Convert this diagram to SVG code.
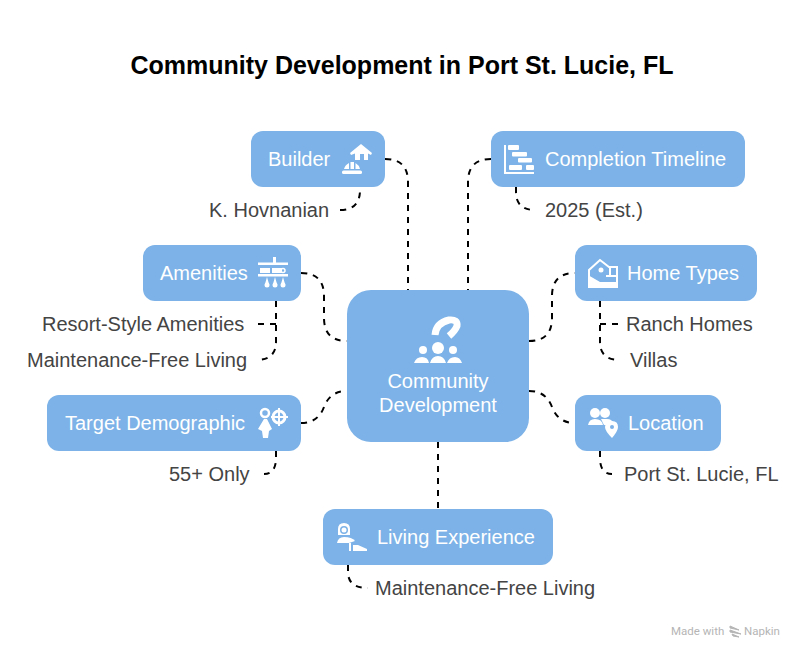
<svg xmlns="http://www.w3.org/2000/svg" width="804" height="658" viewBox="0 0 804 658">
<style>
text{font-family:"Liberation Sans",Arial,sans-serif}
.box{fill:#7cb2e7}
.nl{font-size:20px;fill:#fff}
.cl{font-size:20px;fill:#444}
.c{fill:none;stroke:#000;stroke-width:2;stroke-dasharray:6 6}
.i{fill:#fff;stroke:none}
.s{fill:none;stroke:#fff;stroke-width:2}
.wm{font-size:11.5px;fill:#b5b5b5;font-family:Roboto,sans-serif}
</style>
<rect width="804" height="658" fill="#fff"/>
<text id="title" x="402" y="74" text-anchor="middle" font-size="25" font-weight="700" fill="#000">Community Development in Port St. Lucie, FL</text>
<g id="connectors">
<path class="c" d="M385 159Q408 159 408 182V290"/>
<path class="c" d="M491 159Q468 159 468 182V290"/>
<path class="c" d="M340 210Q360 210 360 190V187"/>
<path class="c" d="M516 187V192Q516 210 535 210"/>
<path class="c" d="M301 273Q324 273 324 296V318Q324 341 347 341"/>
<path class="c" d="M276 301V342Q276 360 256 360"/>
<path class="c" d="M258 324H276"/>
<path class="c" d="M529 341Q552 341 552 318V296Q552 273 575 273"/>
<path class="c" d="M600 301V342Q600 360 620 360"/>
<path class="c" d="M618 324H600"/>
<path class="c" d="M301 423Q318 423 324 407Q330 391 347 391"/>
<path class="c" d="M276 451V458Q276 474 264 474"/>
<path class="c" d="M529 391Q546 391 552 407Q558 423 575 423"/>
<path class="c" d="M600 451V458Q600 474 612 474"/>
<path class="c" d="M438 442V509"/>
<path class="c" d="M348 565V572Q348 588 368 588"/>
</g>
<g id="center">
<rect class="box" x="347" y="290" width="182" height="152" rx="24"/>
<path class="s" style="stroke-width:7" d="M435 335Q436 323 449 320Q458 319 457 326Q455 331 449 336"/>
<circle class="i" cx="423" cy="350" r="4"/><circle class="i" cx="438" cy="348" r="6"/><circle class="i" cx="453" cy="350" r="4"/>
<path class="i" d="M414 363Q416 357 422 357Q428 357 429 363ZM430 363Q432 356 438 356Q444 356 446 363ZM447 363Q449 357 455 357Q460 357 462 363Z"/>
<text class="nl" x="438" y="388" text-anchor="middle">Community</text>
<text class="nl" x="438" y="412" text-anchor="middle">Development</text>
</g>
<g id="builder">
<rect class="box" x="251" y="131" width="134" height="56" rx="12"/>
<text class="nl" x="268" y="166">Builder</text>
<path class="i" d="M350 153L361 144L372 153L371 155L368 153.500V160H355V153.500L351 155Z"/>
<rect class="box" x="360" y="154" width="4" height="6"/>
<path class="i" d="M344 169Q345 165 349 163V169ZM350.500 162H354V169H350.500ZM355.500 163Q359 165 360 169H355.500Z"/>
<rect class="i" x="342" y="170.500" width="20" height="3.500" rx="1.500"/>
</g>
<g id="builder-child"><text class="cl" x="209" y="217">K. Hovnanian</text></g>
<g id="timeline">
<rect class="box" x="491" y="131" width="254" height="56" rx="12"/>
<text class="nl" x="545" y="166">Completion Timeline</text>
<path class="s" d="M505 145V173H534"/>
<rect class="i" x="508" y="145" width="11" height="5" rx="1"/>
<rect class="i" x="512" y="152" width="15" height="4.500" rx="1"/>
<rect class="i" x="518" y="158" width="14" height="4.500" rx="1"/>
<rect class="i" x="509" y="165" width="13" height="5" rx="1"/>
<rect class="i" x="526" y="165" width="8" height="5" rx="1"/>
</g>
<g id="timeline-child"><text class="cl" x="545" y="217">2025 (Est.)</text></g>
<g id="amenities">
<rect class="box" x="143" y="245" width="158" height="56" rx="12"/>
<text class="nl" x="160" y="280">Amenities</text>
<rect class="i" x="258" y="262.500" width="30" height="2.500"/>
<rect class="i" x="273" y="257" width="3" height="6"/>
<rect class="i" x="260" y="268" width="10" height="5"/>
<rect class="i" x="272" y="268" width="10" height="5"/>
<circle cx="283" cy="270.500" r="2" fill="none" stroke="#fff" stroke-width="1.500"/>
<rect class="i" x="258" y="274" width="30" height="2.500"/>
<circle class="i" cx="267" cy="285" r="2.500"/><circle class="i" cx="275" cy="285" r="2.500"/><circle class="i" cx="283" cy="285" r="2.500"/>
<path class="i" d="M265 284L267 277L269 284ZM273 284L275 277L277 284ZM281 284L283 277L285 284Z"/>
</g>
<g id="amenities-child-1"><text class="cl" x="42" y="331">Resort-Style Amenities</text></g>
<g id="amenities-child-2"><text class="cl" x="27" y="367">Maintenance-Free Living</text></g>
<g id="home-types">
<rect class="box" x="575" y="245" width="182" height="56" rx="12"/>
<text class="nl" x="627" y="280">Home Types</text>
<path class="s" d="M589 286V270L600 260L609 267H617V286M610 267V276M606 276H617"/>
<circle class="i" cx="601" cy="270" r="2.500"/>
<path class="i" d="M588 275L600 282H618V288H588Z"/>
</g>
<g id="home-child-1"><text class="cl" x="626" y="331">Ranch Homes</text></g>
<g id="home-child-2"><text class="cl" x="630" y="367">Villas</text></g>
<g id="target">
<rect class="box" x="47" y="395" width="254" height="56" rx="12"/>
<text class="nl" x="65" y="430">Target Demographic</text>
<circle cx="265" cy="413" r="4" fill="none" stroke="#fff" stroke-width="2.500"/>
<path class="i" d="M264 419H267L272 429L269 431L268 438H263L262 431L258 429Z"/>
<circle cx="279" cy="417" r="6" fill="none" stroke="#fff" stroke-width="3"/>
<path class="s" d="M279 408V426M271 417H288"/>
</g>
<g id="target-child"><text class="cl" x="169" y="481">55+ Only</text></g>
<g id="location">
<rect class="box" x="575" y="395" width="146" height="56" rx="12"/>
<text class="nl" x="628" y="430">Location</text>
<circle class="i" cx="595" cy="413" r="5"/><circle class="i" cx="605" cy="413" r="5"/>
<path class="i" d="M588 425Q589 419 595 419Q602 419 603 425ZM601 419H607Q612 419 613 423L606 425H604Z"/>
<path class="i" d="M612 438Q605 431 605 427Q605 421 612 421Q618 421 618 427Q618 431 612 438Z" stroke="#7cb2e7"/>
<circle class="box" cx="612" cy="427" r="2"/>
</g>
<g id="location-child"><text class="cl" x="624" y="481">Port St. Lucie, FL</text></g>
<g id="living">
<rect class="box" x="323" y="509" width="230" height="56" rx="12"/>
<text class="nl" x="377" y="544">Living Experience</text>
<path class="i" d="M338 535V529Q338 523 344 523Q350 523 350 529V535Z"/>
<circle class="box" cx="344" cy="530" r="4"/>
<circle class="i" cx="344" cy="530" r="2.500"/>
<path class="i" d="M337 543Q338 537 344 537Q352 537 355 541L349 543Z"/>
<rect class="i" x="349" y="543" width="2" height="8"/>
<path class="i" d="M353 545H358L367 549V551H353Z"/>
</g>
<g id="living-child"><text class="cl" x="375" y="595">Maintenance-Free Living</text></g>
<g id="watermark">
<text class="wm" x="671" y="635">Made with</text>
<path d="M730 626L739 630L730 628ZM730 630L741 634L730 632ZM732 634L739 637L733 636Z" fill="#b5b5b5" stroke="#b5b5b5" stroke-width="1"/>
<text class="wm" x="744" y="635">Napkin</text>
</g>
</svg>
